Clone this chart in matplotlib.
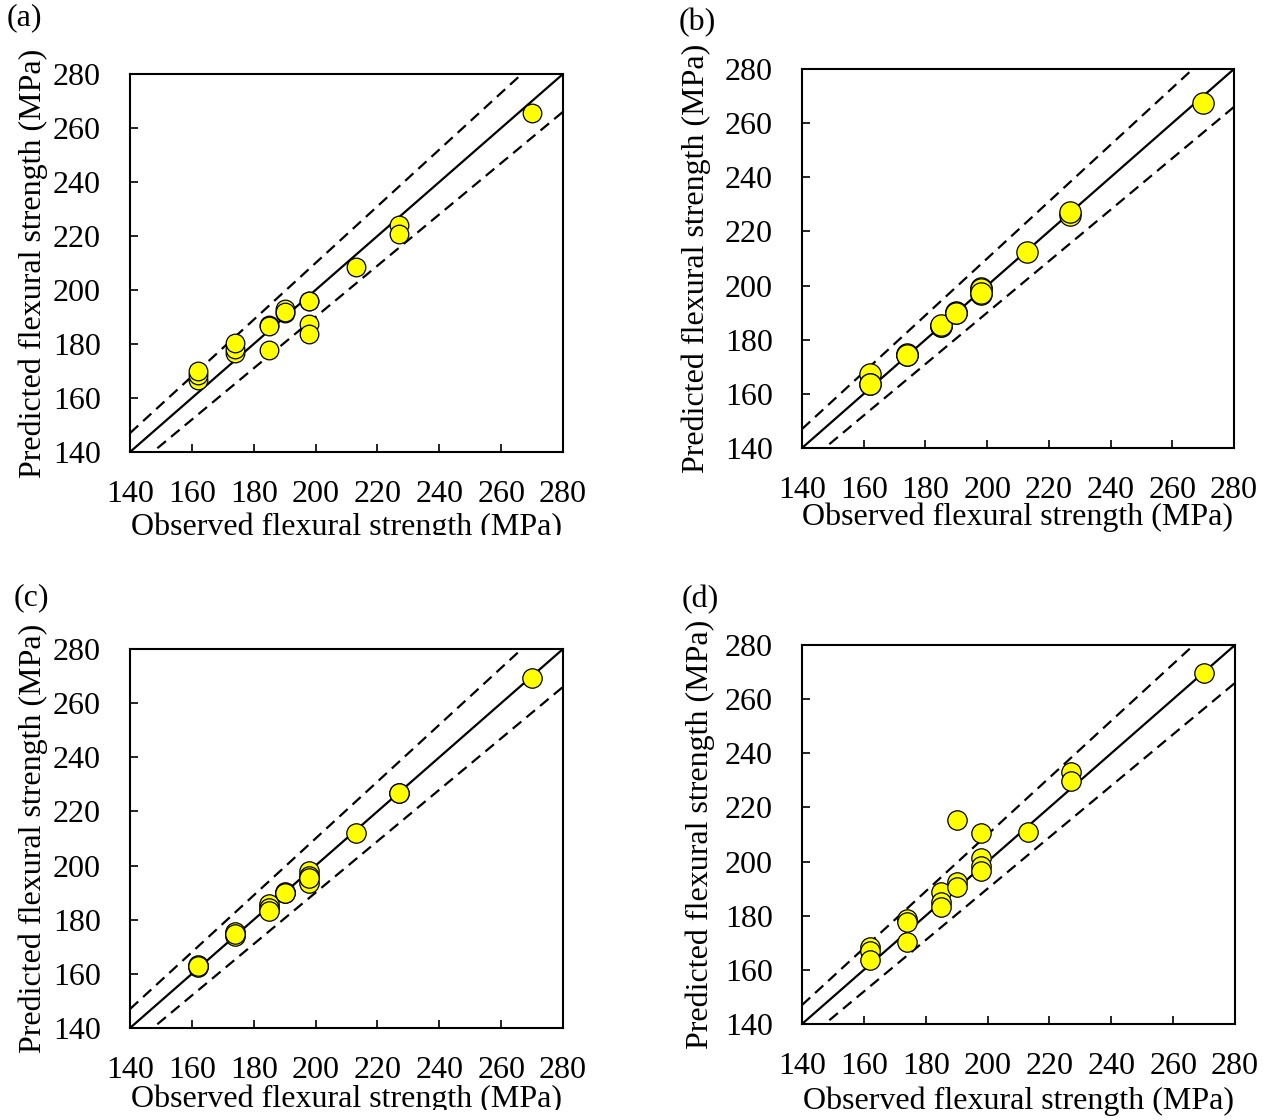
import numpy as np
import matplotlib.pyplot as plt
from matplotlib.patches import Rectangle

plt.rcParams['font.family'] = ['Liberation Serif', 'DejaVu Serif']

# Observed flexural strength (MPa), same samples in every panel
observed = [162, 162, 162, 174, 174, 174, 185, 185, 185, 190, 190, 190,
            198, 198, 198, 198, 213, 227, 227, 270]

# Predicted flexural strength (MPa) for each model
pred_a = [166.6, 168.4, 170.0, 176.5, 178.3, 180.2, 186.9, 177.7, 186.5,
          192.8, 191.4, 192.0, 196.1, 187.5, 183.8, 196.0, 208.6,
          224.1, 220.7, 265.5]
pred_b = [167.4, 163.7, 163.8, 174.5, 174.6, 174.4, 185.2, 185.0, 185.3,
          190.1, 190.0, 189.8, 196.9, 199.1, 198.9, 197.2, 212.5,
          226.2, 227.0, 267.6]
pred_c = [162.5, 163.4, 163.0, 174.1, 175.3, 174.8, 185.8, 184.5, 183.3,
          190.1, 190.0, 189.9, 198.0, 196.0, 193.7, 195.5, 212.1,
          226.9, 226.8, 269.4]
pred_d = [168.4, 167.1, 163.8, 178.8, 177.6, 170.2, 188.7, 185.0, 183.4,
          215.5, 192.6, 190.5, 210.6, 201.3, 198.5, 196.7, 210.8,
          233.2, 229.9, 269.6]

panel_names = ['(a)', '(b)', '(c)', '(d)']
ticks = [140, 160, 180, 200, 220, 240, 260, 280]

W, H = 1270, 1120
fig = plt.figure(figsize=(W / 100, H / 100), dpi=100)

# axes boxes in pixels: left, top, right, bottom
boxes = [(130, 74, 563, 452), (802, 69, 1234, 448),
         (130, 649, 563, 1028), (802, 645, 1235, 1024)]
label_pos = [(7, 3), (679, 8), (14, 583), (682, 585)]
xlab_off = [60, 54, 57, 63]          # px below axis to top of x label
ylab_x = [-0.19, -0.21, -0.19, -0.20]
marker_s = [180, 235, 195, 195]
preds = [pred_a, pred_b, pred_c, pred_d]

for i in range(4):
    l, t, r, b = boxes[i]
    ax = fig.add_axes([l / W, 1 - b / H, (r - l) / W, (b - t) / H])

    # 1:1 line and +/-5 % bounds
    line = np.array([140, 280])
    ax.plot(line, line, color='black', lw=1.6, zorder=2)
    ax.plot(line, line * 1.05, color='black', lw=1.6, ls=(0, (5, 3)), zorder=2)
    ax.plot(line, line * 0.95, color='black', lw=1.6, ls=(0, (5, 3)), zorder=2)

    ax.scatter(observed, preds[i], s=marker_s[i], color='#FFFF00',
               edgecolor='black', linewidth=0.9, zorder=3)

    ax.set_xlim(140, 280)
    ax.set_ylim(140, 280)
    ax.set_xticks(ticks)
    ax.set_yticks(ticks)
    ax.tick_params(axis='x', direction='in', length=6, width=1.2,
                   labelsize=23, pad=20, top=False)
    ax.tick_params(axis='y', direction='in', length=6, width=1.2,
                   labelsize=23, pad=21, right=False)
    for sp in ax.spines.values():
        sp.set_linewidth(1.5)

    ax.set_xlabel('Observed flexural strength (MPa)', fontsize=23)
    ax.set_ylabel('Predicted flexural strength (MPa)', fontsize=23)
    ax.xaxis.set_label_coords(0.5, -xlab_off[i] / (b - t))
    ax.yaxis.set_label_coords(ylab_x[i], 0.5)

    px, py = label_pos[i]
    fig.text(px / W, 1 - py / H, panel_names[i], fontsize=23, va='top', ha='left')

# the original figure has the bottom of the left x labels cut off
fig.patches.append(Rectangle((0, 1 - 578 / H), 660 / W, 43 / H, transform=fig.transFigure,
                             facecolor='white', edgecolor='none', zorder=10))
fig.patches.append(Rectangle((0, 0), 660 / W, 10 / H, transform=fig.transFigure,
                             facecolor='white', edgecolor='none', zorder=10))

plt.savefig('out.png', dpi=100)
